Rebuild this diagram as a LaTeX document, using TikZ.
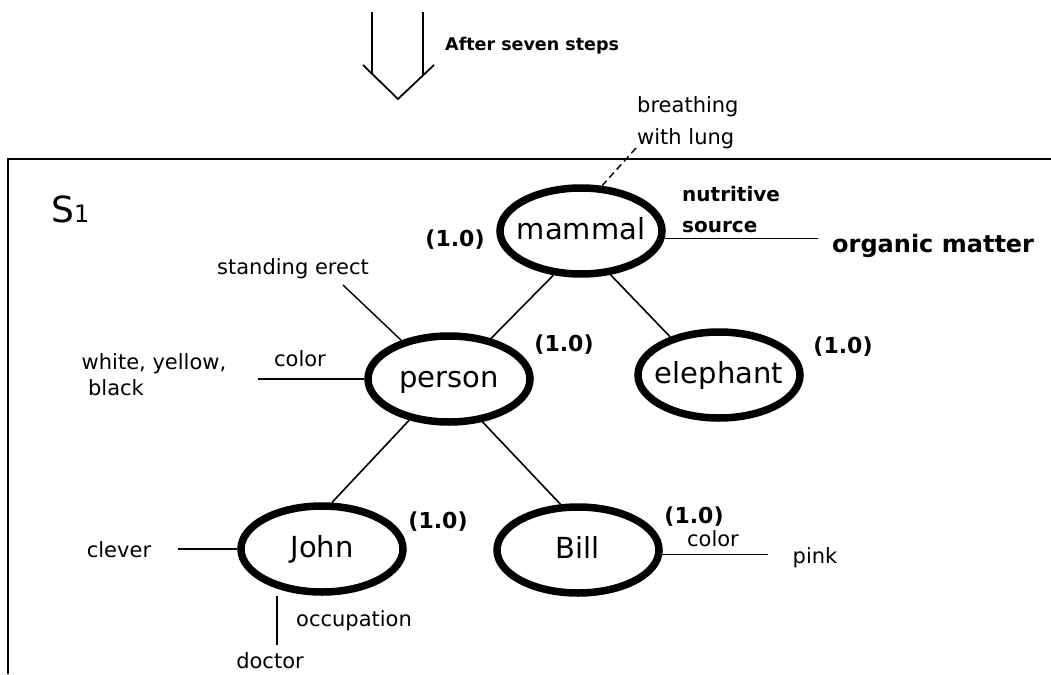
\documentclass[tikz,border=0pt]{standalone}
\usepackage{fontspec}
\setmainfont{DejaVu Sans}
\usetikzlibrary{shapes.geometric}
% concept names are set in a zero-width box so the ellipse keeps its own size
\newcommand{\cname}[1]{\makebox[0pt]{#1}}
\begin{document}
\begin{tikzpicture}[x=1pt,y=-1pt,
  concept/.style={ellipse,draw=black,line width=7.5pt,minimum width=162pt,
    minimum height=86pt,inner sep=0pt,text height=16pt,text depth=0pt,
    font=\fontsize{29}{30}\selectfont},
  lbl/.style={inner sep=0pt,anchor=base,font=\fontsize{21}{23}\selectfont},
  boldlbl/.style={inner sep=0pt,anchor=base,font=\bfseries\fontsize{20}{22}\selectfont},
  weight/.style={inner sep=0pt,anchor=base,font=\bfseries\fontsize{22}{24}\selectfont},
  link/.style={line width=1.6pt},
  attr/.style={line width=1.4pt},
  frame/.style={line width=1.8pt}]
\useasboundingbox (0,0) rectangle (1051,674);

% hollow downward arrow
\draw[frame] (363,65) -- (398,99) -- (434,65);
\draw[frame] (372,12) -- (372,73.7);
\draw[frame] (423,12) -- (423,75.4);
\node[boldlbl,anchor=base west,font=\bfseries\fontsize{17.5}{20}\selectfont] (steps) at (445,51) {After seven steps};

% open frame of the state
\draw[frame] (8,674) -- (8,159) -- (1051,159);
\node[inner sep=0pt,anchor=base west] (s1) at (51,222)
  {\fontsize{36}{36}\selectfont S\fontsize{24}{24}\selectfont 1};

% concepts
\node[concept] (mammal)   at (581,231) {\cname{mammal}};
\node[concept] (person)   at (449,379) {\cname{person}};
\node[concept] (elephant) at (719,375) {\cname{elephant}};
\node[concept] (john)     at (322,549) {\cname{John}};
\node[concept] (bill)     at (578,550) {\cname{Bill}};

% weights
\node[weight] (wm) at (455,246) {(1.0)};
\node[weight] (wp) at (564,351) {(1.0)};
\node[weight] (we) at (843,353) {(1.0)};
\node[weight] (wj) at (438,528) {(1.0)};
\node[weight] (wb) at (694,523) {(1.0)};

% hierarchy links
\draw[link] (mammal.238) -- (person.44);
\draw[link] (mammal.304) -- (elephant.142);
\draw[link] (person.226) -- (john.78);
\draw[link] (person.308) -- (bill.111);

% attributes of mammal
\node[lbl,anchor=base west] (breath1) at (637,113) {breathing};
\node[lbl,anchor=base west] (breath2) at (637,144) {with lung};
\coordinate (breathEnd) at (636,148);
\draw[attr,dash pattern=on 7pt off 4pt] (breathEnd) -- (mammal.65);

\node[boldlbl,anchor=base west] (nutr) at (682,201) {nutritive};
\node[boldlbl,anchor=base west] (src) at (682,232) {source};
\node[boldlbl,anchor=base west,font=\bfseries\fontsize{24}{26}\selectfont] (organic) at (832,252) {organic matter};
\coordinate (orgEnd) at (818,238);
\draw[attr] (mammal.-5) -- (mammal.-5 -| orgEnd);

% attributes of person
\node[lbl] (erect) at (293,274) {standing erect};
\coordinate (erectEnd) at (343,285);
\draw[attr] (erectEnd) -- (person.141);

\node[lbl] (pcolor) at (300,366) {color};
\node[lbl] (wyb1) at (154,369) {white, yellow,};
\node[lbl] (wyb2) at (116,395) {black};
\coordinate (pcolEnd) at (258,379);
\draw[attr] (pcolEnd) -- (person.west);

% attributes of John
\node[lbl] (clever) at (119,557) {clever};
\coordinate (clEnd) at (178,549);
\draw[attr] (clEnd) -- (john.west);

\coordinate (occEnd) at (277,645);
\draw[attr] (john.south -| occEnd) -- (occEnd);
\node[lbl] (occ) at (354,626) {occupation};
\node[lbl] (doctor) at (270,668) {doctor};

% attributes of Bill
\node[lbl] (bcolor) at (713,546) {color};
\node[lbl] (pink) at (815,563) {pink};
\coordinate (bcolEnd) at (768,553);
\draw[attr] (bill.-3) -- (bill.-3 -| bcolEnd);
\end{tikzpicture}
\end{document}
